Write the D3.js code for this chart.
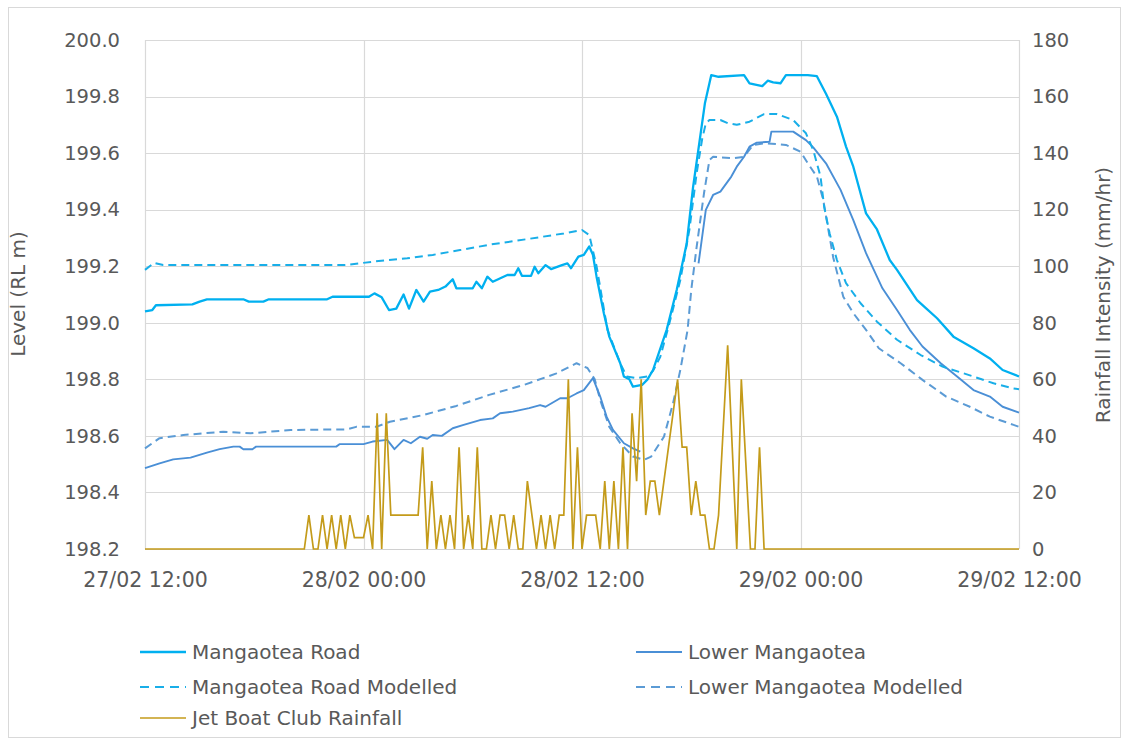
<!DOCTYPE html>
<html>
<head>
<meta charset="utf-8">
<script src="https://cdn.jsdelivr.net/npm/d3@7"></script>
<style>
  html, body { margin: 0; padding: 0; background: #ffffff; }
  svg { display: block; }
  text { font-family: "DejaVu Sans", "Open Sans", sans-serif; fill: #595959; }
</style>
</head>
<body>
<svg id="chart" width="1126" height="742"></svg>
<script>
// ---------------- DATA ----------------
// Times are hours after 27/02/2020 12:00
const xTickLabels = ["27/02 12:00", "28/02 00:00", "28/02 12:00", "29/02 00:00", "29/02 12:00"];
const levelTicks = [198.2, 198.4, 198.6, 198.8, 199.0, 199.2, 199.4, 199.6, 199.8, 200.0];
const rainTicks = [0, 20, 40, 60, 80, 100, 120, 140, 160, 180];

const roadTimes = [0,0.4,0.6,2.6,3.0,3.4,5.4,5.7,6.5,6.8,10.0,10.3,12.3,12.6,13.0,13.4,13.8,14.2,14.5,14.9,15.3,15.65,16.1,16.5,16.9,17.1,18.0,18.2,18.5,18.8,19.1,19.9,20.3,20.5,20.7,21.2,21.4,21.6,22.0,22.3,22.9,23.2,23.4,23.8,24.1,24.4,24.6,24.8,25.2,25.5,26.1,26.3,26.6,26.8,27.3,27.6,27.9,28.65,29.2,29.75,30.1,30.75,31.1,31.5,32.9,33.2,33.9,34.2,34.5,34.9,35.2,36.4,36.9,37.4,38.0,38.5,38.9,39.6,40.2,40.9,41.3,42.4,42.9,43.5,44.4,45.5,46.4,47.1,48.0];
const roadLevels = [199.04,199.045,199.062,199.065,199.075,199.083,199.083,199.075,199.075,199.083,199.083,199.092,199.092,199.104,199.09,199.045,199.05,199.10,199.05,199.116,199.075,199.11,199.116,199.128,199.154,199.122,199.122,199.145,199.122,199.163,199.145,199.169,199.169,199.193,199.166,199.166,199.198,199.175,199.204,199.19,199.204,199.21,199.193,199.234,199.24,199.27,199.24,199.163,199.034,198.951,198.857,198.81,198.80,198.774,198.78,198.80,198.833,198.975,199.116,199.28,199.48,199.776,199.876,199.87,199.876,199.847,199.837,199.856,199.85,199.847,199.876,199.876,199.872,199.81,199.729,199.623,199.552,199.387,199.33,199.222,199.187,199.08,199.051,199.016,198.951,198.91,198.874,198.833,198.81];

const roadModTimes = [0,0.5,1.0,11.0,12.5,14.4,15.8,17.3,19.0,21.0,23.0,24.0,24.4,24.8,25.4,26.1,26.45,27.0,27.6,27.9,28.3,28.8,29.4,29.9,30.3,30.6,30.8,31.0,31.6,32.0,32.5,33.2,34.0,34.7,35.6,36.3,36.7,37.1,37.3,37.6,38.0,38.5,39.3,40.2,41.3,42.6,43.8,45.5,46.6,47.7,48.0];
const roadModLevels = [199.187,199.212,199.204,199.204,199.216,199.228,199.24,199.257,199.277,199.296,199.316,199.328,199.31,199.20,198.975,198.857,198.81,198.804,198.81,198.83,198.88,198.998,199.151,199.33,199.53,199.65,199.705,199.717,199.717,199.706,199.70,199.711,199.738,199.738,199.717,199.67,199.611,199.517,199.41,199.316,199.222,199.14,199.069,199.004,198.94,198.886,198.845,198.81,198.786,198.768,198.765];

const lowerTimes = [0,0.8,1.55,2.5,3.4,4.1,4.85,5.2,5.4,5.9,6.1,10.5,10.7,12.0,12.5,13.3,13.7,14.2,14.6,15.1,15.5,15.8,16.3,16.9,17.5,18.4,19.1,19.5,20.2,21.1,21.7,22.0,22.8,23.2,23.7,24.1,24.6,25.0,25.35,25.7,26.3,26.8,27.2,28.8,30.4,30.8,31.2,31.6,32.0,32.2,32.5,32.9,33.2,33.6,34.3,34.4,35.6,36.3,36.7,37.4,38.2,38.9,39.6,40.5,41.3,42.0,42.7,43.7,44.6,45.5,46.4,47.1,48.0];
const lowerLevels = [198.486,198.503,198.517,198.523,198.541,198.553,198.562,198.562,198.553,198.553,198.562,198.562,198.571,198.571,198.58,198.586,198.553,198.586,198.574,198.597,198.59,198.603,198.60,198.627,198.639,198.656,198.662,198.68,198.686,198.698,198.709,198.703,198.733,198.733,198.75,198.762,198.804,198.739,198.668,198.621,198.574,198.556,198.544,null,199.21,199.399,199.452,199.464,199.499,199.517,199.552,199.587,199.623,199.637,199.64,199.676,199.676,199.646,199.62,199.564,199.47,199.363,199.246,199.122,199.045,198.975,198.916,198.857,198.81,198.762,198.739,198.703,198.682];

const lowerModTimes = [0,0.8,2.1,4.3,5.8,8.0,11.1,11.6,12.7,13.45,15.3,17.1,18.9,20.8,22.6,23.7,24.3,24.7,25.0,25.5,26.1,26.8,27.4,27.8,28.5,29.0,29.4,29.8,30.0,30.3,30.7,31.0,31.2,32.3,32.9,33.4,34.1,35.2,36.0,36.4,36.9,37.25,37.5,37.8,38.35,38.9,39.6,40.3,41.5,42.7,44.0,45.3,46.4,47.7,48.0];
const lowerModLevels = [198.556,198.592,198.603,198.615,198.609,198.621,198.623,198.632,198.632,198.65,198.674,198.706,198.745,198.78,198.821,198.857,198.84,198.80,198.727,198.632,198.574,198.527,198.515,198.527,198.597,198.715,198.833,198.975,199.116,199.27,199.458,199.576,199.587,199.582,199.587,199.629,199.635,199.629,199.605,199.564,199.517,199.434,199.34,199.23,199.092,199.034,198.975,198.91,198.857,198.798,198.739,198.703,198.668,198.639,198.632];

// Jet Boat Club rainfall (mm/hr), 15-minute readings from 27/02 12:00
const rainStepMinutes = 15;
const rainValues = [
  0,0,0,0,0,0,0,0,0,0, 0,0,0,0,0,0,0,0,0,0, 0,0,0,0,0,0,0,0,0,0, 0,0,0,0,0,0,
  12,0,0,12,0,12,0,12,0,12, 4,4,4,12,0,48,0,48,12,12, 12,12,12,12,12,36,0,24,0,12,
  0,12,0,36,0,12,0,36,0,0, 12,0,12,12,0,12,0,0,24,12, 0,12,0,12,0,12,12,60,0,36,
  0,12,12,12,0,24,0,24,0,36, 0,48,24,60,12,24,24,12,24,36, 48,60,36,36,12,24,12,12,0,0,
  12,42,72,36,0,60,30,0,0,36, 0,0,0,0,0,0,0,0,0,0, 0,0,0,0,0,0,0,0,0,0,
  0,0,0,0,0,0,0,0,0,0, 0,0,0,0,0,0,0,0,0,0, 0,0,0,0,0,0,0,0,0,0, 0,0,0,0,0,0,0
];

const seriesNames = ["Mangaotea Road", "Lower Mangaotea", "Mangaotea Road Modelled", "Lower Mangaotea Modelled", "Jet Boat Club Rainfall"];

// ---------------- CHART ----------------
const base = new Date(2020, 1, 27, 12, 0);
const toDate = h => new Date(base.getTime() + h * 3600e3);

const svg = d3.select("#chart");
const plot = { left: 145, right: 1019, top: 40, bottom: 549 };

const x = d3.scaleTime().domain([toDate(0), toDate(48)]).range([plot.left, plot.right]);
const yL = d3.scaleLinear().domain([198.2, 200.0]).range([plot.bottom, plot.top]);
const yR = d3.scaleLinear().domain([0, 180]).range([plot.bottom, plot.top]);

// outer frame
svg.append("rect").attr("x", 8.5).attr("y", 7.5).attr("width", 1112).attr("height", 730)
  .attr("fill", "#fff").attr("stroke", "#d9d9d9").attr("stroke-width", 1);

const xTicks = d3.range(0, 5).map(i => toDate(i * 12));

// gridlines
const grid = svg.append("g");
grid.selectAll("line.h").data(levelTicks).join("line")
  .attr("x1", plot.left).attr("x2", plot.right)
  .attr("y1", d => Math.round(yL(d)) + 0.5).attr("y2", d => Math.round(yL(d)) + 0.5)
  .attr("stroke", "#d9d9d9").attr("stroke-width", 1.2);
grid.selectAll("line.v").data(xTicks).join("line")
  .attr("y1", plot.top).attr("y2", plot.bottom)
  .attr("x1", d => Math.round(x(d)) + 0.5).attr("x2", d => Math.round(x(d)) + 0.5)
  .attr("stroke", "#d9d9d9").attr("stroke-width", 1.2);

// axes (labels only, Excel style)
const axL = svg.append("g").attr("transform", `translate(${plot.left},0)`)
  .call(d3.axisLeft(yL).tickValues(levelTicks).tickFormat(d3.format(".1f")).tickSize(0).tickPadding(25));
const axR = svg.append("g").attr("transform", `translate(${plot.right},0)`)
  .call(d3.axisRight(yR).tickValues(rainTicks).tickSize(0).tickPadding(13));
const axB = svg.append("g").attr("transform", `translate(0,${plot.bottom})`)
  .call(d3.axisBottom(x).tickValues(xTicks).tickFormat((d, i) => xTickLabels[i]).tickSize(0).tickPadding(23));
[axL, axR].forEach(a => {
  a.select(".domain").remove();
  a.selectAll("text").style("font-family", '"DejaVu Sans", sans-serif').style("font-size", "19.5px").attr("fill", "#595959");
});
axB.select(".domain").remove();
axB.selectAll("text").style("font-family", '"DejaVu Sans", sans-serif').style("font-size", "20.5px").attr("fill", "#595959");
svg.append("line").attr("x1", plot.left).attr("x2", plot.right)
  .attr("y1", plot.bottom + 0.5).attr("y2", plot.bottom + 0.5).attr("stroke", "#d0d0d0").attr("stroke-width", 1.2);

// axis titles
svg.append("text").attr("transform", `translate(25,294) rotate(-90)`)
  .attr("text-anchor", "middle").style("font-size", "20px").text("Level (RL m)");
svg.append("text").attr("transform", `translate(1110,295) rotate(-90)`)
  .attr("text-anchor", "middle").style("font-size", "20px").text("Rainfall Intensity (mm/hr)");

// series
const mk = (times, vals) => times.map((t, i) => ({ t: toDate(t), v: vals[i] }));
const lineL = d3.line().defined(d => d.v !== null).x(d => x(d.t)).y(d => yL(d.v));
const lineR = d3.line().x(d => x(d.t)).y(d => yR(d.v));

const styles = {
  road: { color: "#00b0f0", dash: null, w: 2.3 },
  lower: { color: "#4a8fd6", dash: null, w: 1.9 },
  roadMod: { color: "#19aee8", dash: "8,5", w: 2 },
  lowerMod: { color: "#5b9bd5", dash: "8,5", w: 2 },
  rain: { color: "#c49b1a", dash: null, w: 1.7 }
};

const series = [
  { data: mk(lowerModTimes, lowerModLevels), s: styles.lowerMod },
  { data: mk(lowerTimes, lowerLevels), s: styles.lower },
  { data: mk(roadModTimes, roadModLevels), s: styles.roadMod },
  { data: mk(roadTimes, roadLevels), s: styles.road }
];
const gLines = svg.append("g");
series.forEach(o => {
  gLines.append("path").datum(o.data).attr("d", lineL)
    .attr("fill", "none").attr("stroke", o.s.color).attr("stroke-width", o.s.w)
    .attr("stroke-dasharray", o.s.dash).attr("stroke-linejoin", "round");
});
const rainData = rainValues.map((v, i) => ({ t: toDate(i * rainStepMinutes / 60), v }));
gLines.append("path").datum(rainData).attr("d", lineR)
  .attr("fill", "none").attr("stroke", styles.rain.color).attr("stroke-width", styles.rain.w)
  .attr("stroke-linejoin", "miter");

// legend
const legendItems = [
  { name: seriesNames[0], s: styles.road, x: 140, y: 652 },
  { name: seriesNames[1], s: styles.lower, x: 636, y: 652 },
  { name: seriesNames[2], s: styles.roadMod, x: 140, y: 687 },
  { name: seriesNames[3], s: styles.lowerMod, x: 636, y: 687 },
  { name: seriesNames[4], s: styles.rain, x: 140, y: 718 }
];
const lg = svg.append("g");
legendItems.forEach(it => {
  lg.append("line").attr("x1", it.x).attr("x2", it.x + 46).attr("y1", it.y).attr("y2", it.y)
    .attr("stroke", it.s.color).attr("stroke-width", it.s.w).attr("stroke-dasharray", it.s.dash ? "9,6" : null);
  lg.append("text").attr("x", it.x + 52).attr("y", it.y).attr("dy", "0.35em")
    .style("font-size", "20px").text(it.name);
});
</script>
</body>
</html>
